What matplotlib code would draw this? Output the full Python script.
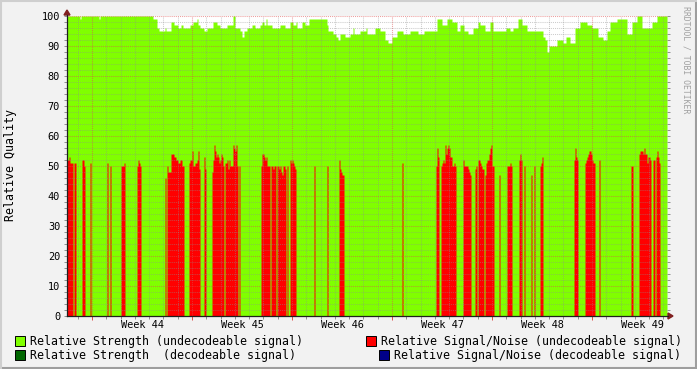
import numpy as np
import matplotlib
matplotlib.use("Agg")
import matplotlib.pyplot as plt
from matplotlib.patches import Rectangle, Polygon

# one sample per pixel column, 100 samples per week
DAYS_PER_SAMPLE = 0.07

# Relative Strength (undecodeable): runs of (samples, value)
green_runs = [
    (13, 100), (1, 99), (18, 100), (1, 99), (53, 100), (4, 99), (2, 96),
    (6, 95), (1, 96), (5, 95), (3, 98), (4, 97), (3, 96), (2, 97), (7, 96),
    (3, 97), (4, 98), (1, 99), (2, 97), (4, 96), (3, 95), (6, 96), (4, 98),
    (3, 97), (7, 96), (6, 97), (2, 100), (5, 96), (2, 95), (2, 93), (3, 95),
    (5, 96), (3, 97), (5, 96), (2, 97), (2, 98), (2, 97), (1, 99), (5, 97),
    (8, 96), (5, 97), (5, 96), (3, 98), (3, 97), (1, 98), (5, 96), (3, 98),
    (4, 97), (18, 99), (1, 97), (5, 95), (3, 94), (2, 93), (2, 92), (5, 94),
    (5, 93), (3, 94), (1, 96), (6, 94), (6, 95), (1, 96), (8, 94), (5, 96),
    (5, 95), (3, 92), (4, 91), (5, 93), (6, 95), (7, 94), (8, 95), (6, 94),
    (13, 95), (5, 99), (5, 97), (5, 99), (5, 98), (3, 95), (4, 97), (4, 95),
    (5, 94), (5, 96), (2, 98), (5, 97), (5, 95), (3, 98), (13, 95), (4, 96),
    (3, 95), (5, 96), (4, 99), (5, 97), (16, 95), (2, 93), (2, 92), (2, 88),
    (8, 90), (6, 92), (3, 91), (4, 93), (5, 91), (5, 96), (7, 98), (5, 97),
    (6, 96), (5, 93), (4, 92), (3, 95), (7, 98), (10, 99), (5, 94), (5, 98),
    (5, 100), (10, 96), (5, 98), (10, 100),
]

# Relative Signal/Noise (undecodeable): (first sample, values)
red_segments = [
    (0, [52, 52, 53, 51, 51, 51]), (7, [51, 51]), (15, [52, 52, 50]),
    (23, [51]), (40, [51]), (43, [50]), (54, [50, 50, 50, 51]),
    (70, [50, 52, 51, 50]), (98, [46]),
    (100, [50, 48, 48, 48, 54, 54, 54, 53, 53, 52, 52, 51, 51, 52, 52, 50, 50]),
    (122, [51, 52, 52, 55, 50, 50, 51, 51, 52, 55, 49]), (137, [53, 49]),
    (145, [48, 52, 57, 55, 53, 54, 53, 51, 52, 54, 53, 50]),
    (158, [51, 51, 52, 49, 52, 50, 50, 50, 57, 56, 55, 57, 50]), (172, [50]),
    (194, [50, 54, 54, 53, 52, 53, 50, 50, 50]), (204, [50, 50, 49, 50, 50]),
    (210, [50, 50, 49, 50, 48, 47, 50, 50, 49]), (220, [50]),
    (223, [52, 51, 52, 51, 50, 49]), (247, [50]), (260, [50]),
    (272, [52, 49, 48, 47, 47]), (335, [51]), (369, [50, 56, 53]),
    (374, [50, 51, 52, 51, 57, 54, 56, 57, 56, 53, 53, 50, 50, 51, 50]),
    (396, [52, 50, 50, 50, 50]), (401, [49, 48, 47]), (408, [49, 50]),
    (411, [52, 52, 51, 50, 49, 49]), (418, [47, 51, 52, 52, 54, 56, 57, 50, 50]),
    (432, [47]), (440, [50, 50, 50, 51, 50]), (452, [52, 54, 52]), (457, [50]),
    (464, [47]), (467, [50]), (473, [50, 51, 53]), (507, [52, 56, 53, 52]),
    (518, [51, 52, 53, 54, 55, 55, 54, 52, 51, 51]), (532, [52]),
    (564, [50, 50]), (572, [54, 55, 55, 55, 54, 56, 54, 54, 51, 53, 53, 52]),
    (586, [52, 52]), (589, [53, 55, 53, 51]),
]

week_labels = ["Week 44", "Week 45", "Week 46", "Week 47", "Week 48", "Week 49"]
first_week_start = 1.75  # days from the left edge

legend_entries = [
    ("Relative Strength (undecodeable signal)", "#80ff00"),
    ("Relative Signal/Noise (undecodeable signal)", "#ff0000"),
    ("Relative Strength  (decodeable signal)", "#006600"),
    ("Relative Signal/Noise (decodeable signal)", "#000088"),
]

# build the series
green = np.concatenate([np.full(n, v, float) for n, v in green_runs])
n = len(green)
red = np.zeros(n)
for start, vals in red_segments:
    red[start:start + len(vals)] = vals
x = np.arange(n + 1) * DAYS_PER_SAMPLE
total_days = n * DAYS_PER_SAMPLE

W, H = 697, 369
plt.rcParams["font.family"] = "DejaVu Sans Mono"
fig = plt.figure(figsize=(W / 100, H / 100), dpi=100, facecolor="#f2f2f2")

def fx(px):
    return px / W

def fy(py):
    return 1 - py / H

ax = fig.add_axes([fx(67), fy(316), 600 / W, 300 / H])
ax.set_facecolor("white")
ax.set_xlim(0, total_days)
ax.set_ylim(0, 100)

ax.fill_between(x, 0, np.append(green, green[-1]), step="post",
                color="#80ff00", linewidth=0, zorder=1)
ax.fill_between(x, 0, np.append(red, red[-1]), step="post",
                color="#ff0000", linewidth=0, zorder=2)

# grid (rrdtool style dotted)
gkw = dict(linewidth=0.75, linestyle=(0, (1, 1)), zorder=3)
day = 0.75
while day < total_days:
    is_major = abs((day - first_week_start) % 7) < 1e-6
    ax.axvline(day, color="#de4f4f" if is_major else "#8f8f8f",
               alpha=0.55 if is_major else 0.45, **gkw)
    day += 1
for yv in range(2, 101, 2):
    major = yv % 10 == 0
    ax.axhline(yv, color="#de4f4f" if major else "#8f8f8f",
               alpha=0.55 if major else 0.45, **gkw)

for s in ax.spines.values():
    s.set_visible(False)

ax.set_yticks(range(0, 101, 10))
ax.set_yticks(range(0, 101, 2), minor=True)
ax.tick_params(axis="y", which="both", length=2, width=0.7, color="#8f8f8f",
               direction="out", labelsize=7.4, pad=3, right=True)
ax.set_xticks([first_week_start + 7 * k for k in range(6)])
ax.set_xticks(np.arange(0.75, total_days, 1), minor=True)
ax.set_xticklabels([])
ax.tick_params(axis="x", which="major", length=3, width=0.7, color="#de4f4f",
               direction="out")
ax.tick_params(axis="x", which="minor", length=2, width=0.7, color="#8f8f8f",
               direction="out")
for k, lab in enumerate(week_labels):
    ax.text(first_week_start + 3.5 + 7 * k, -1.2, lab, ha="center", va="top",
            fontsize=7.4)

# axes with arrows
ax_col = "#1f1f1f"
fig.add_artist(plt.Line2D([fx(67), fx(668)], [fy(316), fy(316)], color=ax_col,
                          linewidth=0.9))
fig.add_artist(plt.Line2D([fx(67), fx(67)], [fy(316), fy(15)], color=ax_col,
                          linewidth=0.9))
fig.add_artist(Polygon([[fx(668), fy(313)], [fx(673), fy(316)], [fx(668), fy(319)]],
                       closed=True, color="#801f1f", transform=fig.transFigure))
fig.add_artist(Polygon([[fx(64), fy(15)], [fx(67), fy(10)], [fx(70), fy(15)]],
                       closed=True, color="#801f1f", transform=fig.transFigure))

fig.text(fx(11), fy(165), "Relative Quality", rotation=90, ha="center",
         va="center", fontsize=8.4)
fig.text(fx(686), fy(60), "RRDTOOL / TOBI OETIKER", rotation=270, ha="center",
         va="center", fontsize=5.9, color="#a0a0a0")

# legend
legend_pos = [(15, 341), (366, 341), (15, 355), (379, 355)]
for (label, col), (px, py) in zip(legend_entries, legend_pos):
    fig.add_artist(Rectangle((fx(px), fy(py + 5)), 10 / W, 10 / H, facecolor=col,
                             edgecolor="black", linewidth=0.7,
                             transform=fig.transFigure))
    fig.text(fx(px + 15), fy(py), label, ha="left", va="center", fontsize=8.4)

# shaded frame
fig.add_artist(plt.Line2D([0, 1], [fy(368), fy(368)], color="#9e9e9e", linewidth=1.5))
fig.add_artist(plt.Line2D([fx(696), fx(696)], [0, 1], color="#9e9e9e", linewidth=1.5))
fig.add_artist(plt.Line2D([0, 1], [fy(0.5), fy(0.5)], color="#cfcfcf", linewidth=1.5))
fig.add_artist(plt.Line2D([fx(0.5), fx(0.5)], [0, 1], color="#cfcfcf", linewidth=1.5))

fig.savefig("out.png", dpi=100, facecolor=fig.get_facecolor())
